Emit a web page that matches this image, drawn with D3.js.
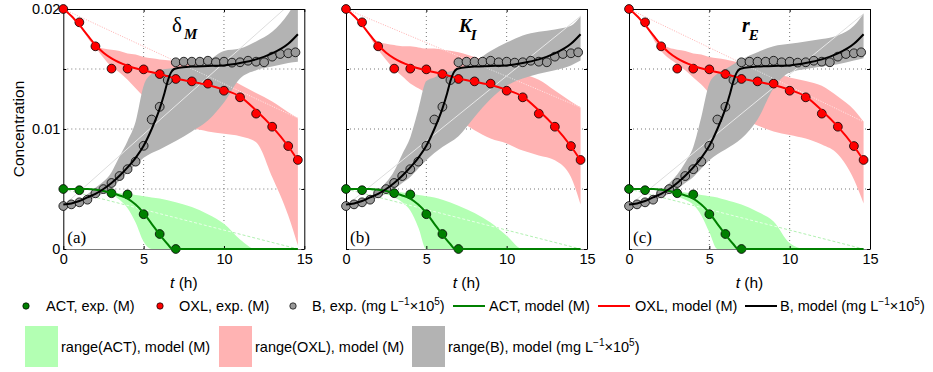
<!DOCTYPE html>
<html><head><meta charset="utf-8">
<script src="https://cdn.jsdelivr.net/npm/d3@7"></script>
<style>
body{margin:0;background:#fff}
svg{display:block}
svg{font-family:"Liberation Sans",Arial,Helvetica,sans-serif}
.serif{font-family:"Liberation Serif","Times New Roman",serif}
</style>
</head><body>
<svg id="chart" width="933" height="372"></svg>
<script>
// ---------------- DATA ----------------
const xTicks = [0, 5, 10, 15];
const yTicks = [0, 0.005, 0.01, 0.015, 0.02];
const yTickLabels = {0: "0", 0.01: "0.01", 0.02: "0.02"};
const panelLetters = ["(a)", "(b)", "(c)"];

// experimental data
const actExpT = [0, 1, 3, 4, 5, 6, 7];
const actExp  = [0.005, 0.0049, 0.00465, 0.00455, 0.0029, 0.00125, 0];
const oxlExpT = [0, 1, 2, 3, 4, 5, 6, 7, 8, 9, 10, 11, 12, 13, 14, 14.6];
const oxlExp  = [0.02, 0.01889, 0.01689, 0.01503, 0.01503, 0.01497, 0.01458, 0.01417, 0.01397, 0.01378, 0.01319, 0.01264, 0.01128, 0.01019, 0.00858, 0.00742];
const bExpT = [0, 0.5, 1, 1.5, 2, 2.5, 3, 3.5, 4, 4.5, 5, 5.5, 6, 6.5, 7, 7.5, 8, 8.5, 9, 9.5, 10, 10.5, 11, 11.5, 12, 12.5, 13, 13.5, 14, 14.45];
const bExp  = [0.00358, 0.00372, 0.00389, 0.00411, 0.00464, 0.00499, 0.0055, 0.00608, 0.00665, 0.00728, 0.0086, 0.01079, 0.01185, 0.01408, 0.01556, 0.01561, 0.01561, 0.01561, 0.01569, 0.01556, 0.01561, 0.01553, 0.01556, 0.01569, 0.01561, 0.01556, 0.01603, 0.01625, 0.01631, 0.01639];

// model curves
const actModelT = [0, 1, 1.5, 2, 2.5, 3, 3.5, 4, 4.5, 5, 5.5, 6, 6.5, 6.8, 7, 8, 10, 12, 14, 14.6];
const actModel  = [0.005, 0.005, 0.00499, 0.00494, 0.00483, 0.00466, 0.00446, 0.0042, 0.0037, 0.003, 0.0021, 0.0012, 0.0004, 0, 0, 0, 0, 0, 0, 0];
const oxlModelT = [0, 0.5, 1, 1.5, 2, 2.5, 3, 4, 5, 6, 7, 8, 9, 10, 11, 12, 13, 14, 14.6];
const oxlModel  = [0.02, 0.01942, 0.01867, 0.01783, 0.017, 0.01636, 0.01589, 0.01527, 0.01488, 0.01458, 0.01421, 0.01394, 0.01367, 0.01327, 0.0127, 0.01155, 0.0102, 0.00856, 0.00738];
const bModelT = [0, 0.5, 1, 1.5, 2, 2.5, 3, 3.5, 4, 4.5, 5, 5.5, 6, 6.3, 6.5, 6.7, 6.9, 7.2, 8, 9, 10, 11, 12, 13, 14, 14.6];
const bModel  = [0.0037, 0.0038, 0.004, 0.0043, 0.0046, 0.005, 0.0055, 0.0061, 0.0068, 0.0076, 0.0086, 0.01, 0.0117, 0.013, 0.014, 0.0147, 0.015, 0.0151, 0.0152, 0.01525, 0.0153, 0.0155, 0.0158, 0.0163, 0.0171, 0.0179];

// range bands (shared time grid)
const bandT = [0, 1, 2, 3, 3.5, 4, 4.5, 5, 5.5, 6, 7, 8, 9, 10, 11, 12, 13, 14, 14.6];
// panel (a) delta_M
const actHiA = [0.005, 0.005, 0.00495, 0.0047, 0.00465, 0.0046, 0.0045, 0.0044, 0.0043, 0.0042, 0.0039, 0.0035, 0.0029, 0.0021, 0.0008, 0, 0, 0, 0];
const actLoA = [0.005, 0.005, 0.0049, 0.00455, 0.0041, 0.0034, 0.0022, 0.0006, 0, 0, 0, 0, 0, 0, 0, 0, 0, 0, 0];
const oxlHiA = [0.02, 0.0186, 0.0169, 0.0166, 0.0165, 0.0163, 0.0162, 0.016, 0.0159, 0.0158, 0.01567, 0.01547, 0.0152, 0.0145, 0.0137, 0.013, 0.0123, 0.0114, 0.0109];
const oxlLoA = [0.02, 0.0186, 0.0168, 0.0152, 0.0147, 0.0141, 0.0134, 0.0127, 0.0121, 0.0115, 0.0107, 0.0101, 0.0098, 0.0096, 0.0094, 0.0089, 0.006, 0.0028, 0.0003];
const bHiA = [0.0036, 0.0041, 0.0051, 0.0064, 0.0077, 0.009, 0.0106, 0.0136, 0.0146, 0.0149, 0.0151, 0.0153, 0.0157, 0.0165, 0.0167, 0.0173, 0.0181, 0.0196, 0.021];
const bLoA = [0.0036, 0.0038, 0.0043, 0.0051, 0.0057, 0.0064, 0.007, 0.0076, 0.008, 0.0083, 0.009, 0.0098, 0.0107, 0.0122, 0.0142, 0.0149, 0.0152, 0.0155, 0.0156];
// panel (b) K_I
const actHiB = [0.005, 0.005, 0.00495, 0.0048, 0.0047, 0.0046, 0.0045, 0.0044, 0.0043, 0.0041, 0.0036, 0.003, 0.0022, 0.0011, 0, 0, 0, 0, 0];
const actLoB = [0.005, 0.005, 0.0047, 0.0043, 0.0039, 0.0032, 0.0018, 0, 0, 0, 0, 0, 0, 0, 0, 0, 0, 0, 0];
const oxlHiB = [0.02, 0.0186, 0.0173, 0.017, 0.0169, 0.0169, 0.0168, 0.0167, 0.0167, 0.0166, 0.0164, 0.016, 0.0156, 0.0152, 0.0146, 0.0141, 0.0132, 0.0123, 0.0118];
const oxlLoB = [0.02, 0.0186, 0.0166, 0.015, 0.0144, 0.0138, 0.0134, 0.013, 0.0125, 0.0119, 0.0108, 0.0099, 0.0092, 0.0088, 0.0082, 0.0078, 0.0074, 0.006, 0.0037];
const bHiB = [0.0036, 0.004, 0.0049, 0.0065, 0.0079, 0.0093, 0.0116, 0.014, 0.0143, 0.0146, 0.015, 0.0156, 0.0165, 0.0172, 0.0178, 0.0181, 0.0183, 0.0186, 0.0194];
const bLoB = [0.0036, 0.0038, 0.0043, 0.005, 0.0055, 0.006, 0.0067, 0.0074, 0.008, 0.0085, 0.0094, 0.011, 0.0125, 0.0136, 0.0142, 0.0146, 0.0149, 0.0153, 0.0157];
// panel (c) r_E
const actHiC = [0.005, 0.005, 0.00495, 0.0048, 0.0047, 0.0046, 0.0045, 0.0044, 0.0043, 0.0041, 0.0037, 0.0031, 0.0023, 0.0005, 0, 0, 0, 0, 0];
const actLoC = [0.005, 0.005, 0.0048, 0.0044, 0.0041, 0.0037, 0.0028, 0.0014, 0, 0, 0, 0, 0, 0, 0, 0, 0, 0, 0];
const oxlHiC = [0.02, 0.0186, 0.0171, 0.0166, 0.0165, 0.0163, 0.0162, 0.016, 0.0159, 0.0158, 0.0155, 0.0151, 0.0147, 0.0143, 0.014, 0.0136, 0.0127, 0.0116, 0.0106];
const oxlLoC = [0.02, 0.0186, 0.0165, 0.0154, 0.0149, 0.0143, 0.0137, 0.013, 0.0125, 0.0119, 0.0109, 0.0103, 0.0098, 0.0095, 0.0092, 0.0087, 0.0079, 0.0058, 0.0038];
const bHiC = [0.0036, 0.004, 0.0049, 0.0062, 0.0072, 0.0085, 0.011, 0.0138, 0.0146, 0.015, 0.0158, 0.0164, 0.0169, 0.0171, 0.0173, 0.0175, 0.0178, 0.0186, 0.0196];
const bLoC = [0.0036, 0.0038, 0.0043, 0.005, 0.0055, 0.006, 0.0067, 0.0074, 0.0079, 0.0083, 0.0092, 0.0108, 0.0134, 0.0147, 0.015, 0.0152, 0.0154, 0.0157, 0.0159];

// legend labels
const legendRow1 = ["ACT, exp. (M)", "OXL, exp. (M)", "B, exp. (mg L|−1|×10|5|)", "ACT, model (M)", "OXL, model (M)", "B, model (mg L|−1|×10|5|)"];
const legendRow2 = ["range(ACT), model (M)", "range(OXL), model (M)", "range(B), model (mg L|−1|×10|5|)"];

// ---------------- STYLE / LAYOUT ----------------
const C = {
  act: "#008000", oxl: "#ff0000", b: "#000000",
  actPt: "#008000", oxlPt: "#ff0000", bPt: "#999999",
  actBand: "#b3ffb3", oxlBand: "#ffb3b3", bBand: "#b3b3b3"
};
const panelRanges = [[63.3, 304.3], [346, 587], [629, 870]];
const panels = [
  {bands: {oxl: [oxlLoA, oxlHiA], b: [bLoA, bHiA], act: [actLoA, actHiA]}},
  {bands: {oxl: [oxlLoB, oxlHiB], b: [bLoB, bHiB], act: [actLoB, actHiB]}},
  {bands: {oxl: [oxlLoC, oxlHiC], b: [bLoC, bHiC], act: [actLoC, actHiC]}}
];
const seamStyle = {
  oxl: {color: "#ff8c8c", dash: "1,1.5"},
  b:   {color: "#cfcfcf", dash: null},
  act: {color: "#8fe98f", dash: "3,2"}
};

const svg = d3.select("#chart");
const defs = svg.append("defs");
const y = d3.scaleLinear().domain([0, 0.02]).range([249, 9]);
const FS = 14.5;
const SANS = '"Liberation Sans",Arial,sans-serif';

panels.forEach((p, i) => {
  const x = d3.scaleLinear().domain([0, 15]).range(panelRanges[i]);
  const g = svg.append("g");
  const clipId = "pclip" + i;
  defs.append("clipPath").attr("id", clipId).append("rect")
    .attr("x", x(0)).attr("y", y(0.02)).attr("width", x(15) - x(0)).attr("height", y(0) - y(0.02));
  const plot = g.append("g").attr("clip-path", `url(#${clipId})`);

  // grid
  const grid = plot.append("g").attr("stroke", "#666").attr("stroke-width", 0.9).attr("stroke-dasharray", "1,3");
  [5, 10].forEach(v => grid.append("line").attr("x1", x(v)).attr("x2", x(v)).attr("y1", y(0)).attr("y2", y(0.02)));
  [0.005, 0.01, 0.015].forEach(v => grid.append("line").attr("x1", x(0)).attr("x2", x(15)).attr("y1", y(v)).attr("y2", y(v)));

  const area = d3.area().x((d, j) => x(bandT[j])).y0(d => y(d[0])).y1(d => y(d[1])).curve(d3.curveMonotoneX);
  const order = ["oxl", "b", "act"];
  const seam = k => {
    const hi = p.bands[k][1];
    return [[x(bandT[0]), y(hi[0])], [x(bandT[bandT.length - 1]), y(hi[hi.length - 1])]];
  };
  order.forEach(k => {
    const s = seam(k);
    plot.append("line").attr("x1", s[0][0]).attr("y1", s[0][1]).attr("x2", s[1][0]).attr("y2", s[1][1])
      .attr("stroke", seamStyle[k].color).attr("stroke-width", 0.7)
      .attr("stroke-dasharray", seamStyle[k].dash);
  });
  order.forEach(k => {
    const [lo, hi] = p.bands[k];
    const data = d3.zip(lo, hi);
    plot.append("path").attr("d", area(data)).attr("fill", C[k + "Band"]).attr("stroke", "none");
    defs.append("clipPath").attr("id", `band${i}${k}`).append("path").attr("d", area(data));
  });
  order.forEach(k => {
    const s = seam(k);
    plot.append("line").attr("clip-path", `url(#band${i}${k})`)
      .attr("x1", s[0][0]).attr("y1", s[0][1]).attr("x2", s[1][0]).attr("y2", s[1][1])
      .attr("stroke", "#ffffff").attr("stroke-width", 0.7)
      .attr("stroke-dasharray", seamStyle[k].dash);
  });

  // axes
  const ax = g.append("g");
  const bottom = ax.append("g").attr("transform", `translate(0,${y(0)})`)
    .call(d3.axisBottom(x).tickValues(xTicks).tickSizeInner(-3).tickSizeOuter(0).tickPadding(5));
  bottom.select(".domain").attr("stroke", "#7a7a7a").attr("stroke-width", 1.2);
  const left = ax.append("g").attr("transform", `translate(${x(0)},0)`)
    .call(d3.axisLeft(y).tickValues(yTicks).tickSizeInner(-3).tickSizeOuter(0).tickPadding(3)
      .tickFormat(d => i === 0 && yTickLabels[d] !== undefined ? yTickLabels[d] : ""));
  const top = ax.append("g").attr("transform", `translate(0,${y(0.02)})`)
    .call(d3.axisTop(x).tickValues(xTicks).tickSizeInner(-3).tickSizeOuter(0).tickFormat(""));
  const right = ax.append("g").attr("transform", `translate(${x(15)},0)`)
    .call(d3.axisRight(y).tickValues(yTicks).tickSizeInner(-3).tickSizeOuter(0).tickFormat(""));
  ax.selectAll("g").attr("font-family", null).attr("font-size", null);
  ax.selectAll("text").style("font-size", FS + "px").style("font-family", SANS).attr("fill", "#000");
  ax.selectAll(".tick line").attr("stroke", "#000");
  [left, top, right].forEach(a => a.select(".domain").attr("stroke", "#000").attr("stroke-width", 1));

  // panel letter
  g.append("text").attr("class", "serif").attr("x", x(0) + 4).attr("y", 243)
    .style("font-size", "17px").text(panelLetters[i]);

  // markers
  const mk = (ts, vs, col) => {
    g.append("g").selectAll("circle").data(vs).join("circle")
      .attr("cx", (d, j) => x(ts[j])).attr("cy", d => y(d)).attr("r", 4.4)
      .attr("fill", col).attr("stroke", "#000").attr("stroke-width", 0.8);
  };
  mk(actExpT, actExp, C.actPt);
  mk(oxlExpT, oxlExp, C.oxlPt);
  mk(bExpT, bExp, C.bPt);

  // model lines
  const ln = (ts, vs, col) => {
    const gen = d3.line().x((d, j) => x(ts[j])).y(d => y(d)).curve(d3.curveMonotoneX);
    g.append("path").attr("d", gen(vs)).attr("fill", "none").attr("stroke", col).attr("stroke-width", 2);
  };
  ln(actModelT, actModel, C.act);
  ln(oxlModelT, oxlModel, C.oxl);
  ln(bModelT, bModel, C.b);

  // x label
  const xl = g.append("text").attr("x", (x(0) + x(15)) / 2).attr("y", 288).attr("text-anchor", "middle").style("font-size", "15.5px");
  xl.append("tspan").style("font-style", "italic").text("t");
  xl.append("tspan").text(" (h)");
});

// titles
const t1 = svg.append("text").attr("class", "serif").attr("x", 172).attr("y", 32);
t1.append("tspan").style("font-size", "21px").text("δ");
t1.append("tspan").style("font-size", "15px").style("font-weight", "bold").style("font-style", "italic").attr("dx", 2).attr("dy", 7).text("M");
const t2 = svg.append("text").attr("class", "serif").attr("x", 459).attr("y", 32).style("font-weight", "bold").style("font-style", "italic");
t2.append("tspan").style("font-size", "19px").text("K");
t2.append("tspan").style("font-size", "15px").attr("dx", -1).attr("dy", 8).text("I");
const t3 = svg.append("text").attr("class", "serif").attr("x", 742).attr("y", 32).style("font-weight", "bold").style("font-style", "italic");
t3.append("tspan").style("font-size", "20px").text("r");
t3.append("tspan").style("font-size", "15px").attr("dx", -1).attr("dy", 8).text("E");

// y label
svg.append("text").attr("transform", "translate(24,129) rotate(-90)").attr("text-anchor", "middle")
  .style("font-size", "15.5px").text("Concentration");

// ---------------- LEGEND ----------------
function rich(sel, label) {
  const parts = label.split("|");
  parts.forEach((s, j) => {
    if (!s) return;
    const sup = j % 2 === 1;
    const ts = sel.append("tspan").text(s);
    if (sup) ts.style("font-size", "10px").attr("dy", -6);
    else if (j > 0) ts.attr("dy", 6);
  });
}
const leg = svg.append("g").style("font-size", FS + "px");
const r1y = 306;
const r1 = [
  {type: "pt", col: C.actPt, x: 26, tx: 46},
  {type: "pt", col: C.oxlPt, x: 160, tx: 179},
  {type: "pt", col: C.bPt, x: 293, tx: 312},
  {type: "ln", col: C.act, x: 453, tx: 489},
  {type: "ln", col: C.oxl, x: 598, tx: 635},
  {type: "ln", col: C.b, x: 745, tx: 780}
];
r1.forEach((it, j) => {
  if (it.type === "pt") {
    leg.append("circle").attr("cx", it.x).attr("cy", r1y).attr("r", 3.2).attr("fill", it.col).attr("stroke", "#000").attr("stroke-width", 0.7);
  } else {
    leg.append("line").attr("x1", it.x).attr("x2", it.x + 32).attr("y1", r1y).attr("y2", r1y).attr("stroke", it.col).attr("stroke-width", 2);
  }
  rich(leg.append("text").attr("x", it.tx).attr("y", r1y + 5), legendRow1[j]);
});
const r2 = [
  {col: C.actBand, x: 25, tx: 61},
  {col: C.oxlBand, x: 219, tx: 255},
  {col: C.bBand, x: 412, tx: 448}
];
r2.forEach((it, j) => {
  leg.append("rect").attr("x", it.x).attr("y", 326).attr("width", 33).attr("height", 41).attr("fill", it.col);
  rich(leg.append("text").attr("x", it.tx).attr("y", 352), legendRow2[j]);
});
</script>
</body></html>
